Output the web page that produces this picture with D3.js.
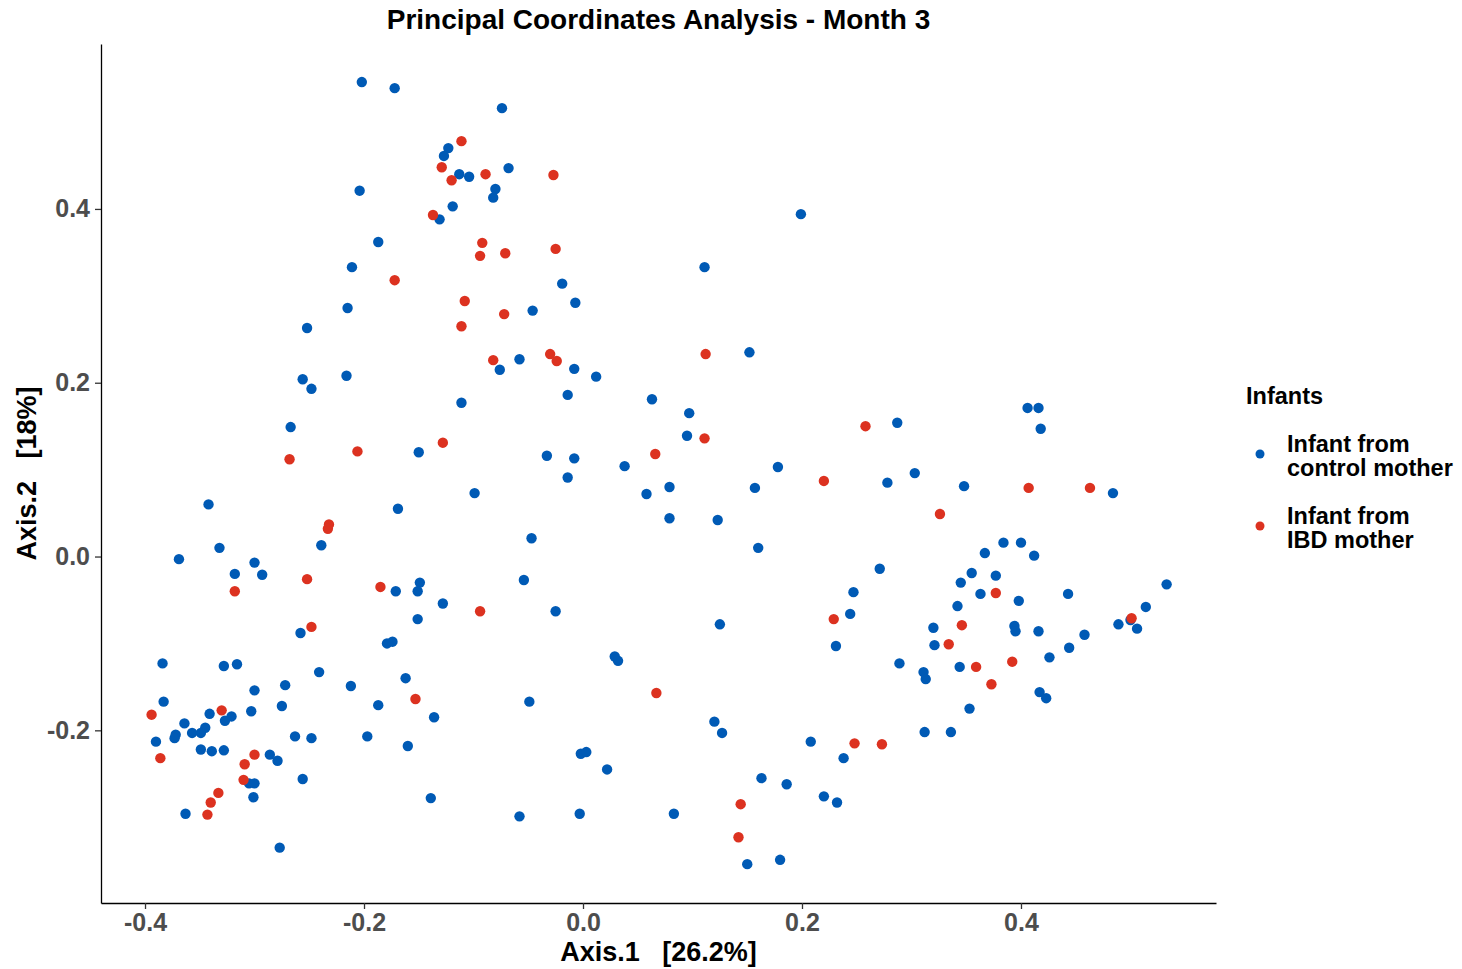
<!DOCTYPE html>
<html>
<head>
<meta charset="utf-8">
<script src="https://cdn.jsdelivr.net/npm/d3@7"></script>
<style>
  body { margin: 0; background: #fff; }
  svg text { font-family: "Liberation Sans", Arial, Helvetica, sans-serif; font-weight: bold; }
</style>
</head>
<body>
<svg id="chart" width="1462" height="969"></svg>
<script>
// groups + colours
const groups = ["control", "ibd"];
const groupColors = ["#005AB5", "#DC3220"];
const legendLines = [["Infant from", "control mother"], ["Infant from", "IBD mother"]];

const xTicks = [-0.4, -0.2, 0, 0.2, 0.4];
const xTickLabels = ["-0.4", "-0.2", "0.0", "0.2", "0.4"];
const yTicks = [-0.2, 0, 0.2, 0.4];
const yTickLabels = ["-0.2", "0.0", "0.2", "0.4"];

// [Axis.1, Axis.2] per sample
const controlPoints = [
  [-0.332, 0.010], [-0.239, 0.013], [-0.369, -0.003], [-0.300, -0.007], [-0.318, -0.020], [-0.293, -0.021],
  [-0.258, -0.088], [-0.384, -0.123], [-0.328, -0.126], [-0.316, -0.124], [-0.241, -0.133], [-0.212, -0.149],
  [-0.300, -0.154], [-0.272, -0.148], [-0.383, -0.167], [-0.275, -0.172], [-0.341, -0.181], [-0.321, -0.184],
  [-0.327, -0.189], [-0.303, -0.178], [-0.364, -0.192], [-0.345, -0.197], [-0.349, -0.203], [-0.357, -0.203],
  [-0.372, -0.205], [-0.373, -0.209], [-0.390, -0.213], [-0.263, -0.207], [-0.248, -0.209], [-0.349, -0.222],
  [-0.339, -0.224], [-0.328, -0.223], [-0.286, -0.228], [-0.279, -0.235], [-0.305, -0.261], [-0.300, -0.261],
  [-0.256, -0.256], [-0.301, -0.277], [-0.363, -0.296], [-0.277, -0.335],
  [-0.252, 0.263], [-0.256, 0.204], [-0.248, 0.193], [-0.267, 0.149], [-0.342, 0.060],
  [-0.202, 0.546], [-0.172, 0.539], [-0.074, 0.516], [-0.123, 0.470], [-0.127, 0.461], [-0.113, 0.440],
  [-0.104, 0.437], [-0.068, 0.447], [-0.204, 0.421], [-0.080, 0.423], [-0.082, 0.413], [-0.119, 0.403],
  [-0.131, 0.388], [-0.187, 0.362], [-0.211, 0.333], [-0.019, 0.314], [-0.007, 0.292], [-0.215, 0.286],
  [-0.046, 0.283],
  [-0.058, 0.227], [-0.076, 0.215], [-0.008, 0.216], [0.012, 0.207], [-0.216, 0.208], [-0.014, 0.186],
  [-0.111, 0.177], [-0.150, 0.120], [-0.033, 0.116], [-0.008, 0.113], [-0.014, 0.091], [-0.099, 0.073],
  [-0.169, 0.055], [-0.047, 0.021], [-0.054, -0.027], [-0.171, -0.040], [-0.149, -0.030], [-0.151, -0.040],
  [-0.128, -0.054], [-0.025, -0.063],
  [-0.151, -0.072], [-0.179, -0.100], [-0.174, -0.098], [-0.162, -0.140], [-0.187, -0.171], [-0.136, -0.185],
  [-0.049, -0.167], [-0.197, -0.207], [-0.160, -0.218], [-0.002, -0.227], [0.003, -0.225], [0.022, -0.245],
  [-0.139, -0.278], [-0.058, -0.299], [-0.003, -0.296],
  [0.199, 0.394], [0.111, 0.333], [0.152, 0.235], [0.063, 0.181], [0.097, 0.165], [0.095, 0.139],
  [0.287, 0.154], [0.038, 0.104], [0.178, 0.103], [0.278, 0.085], [0.058, 0.072], [0.079, 0.080],
  [0.157, 0.079],
  [0.079, 0.044], [0.123, 0.042], [0.160, 0.010], [0.271, -0.014], [0.247, -0.041], [0.244, -0.066],
  [0.125, -0.078], [0.231, -0.103], [0.029, -0.115], [0.032, -0.120], [0.289, -0.123], [0.120, -0.190],
  [0.127, -0.203], [0.208, -0.213], [0.238, -0.232], [0.163, -0.255], [0.186, -0.262], [0.220, -0.276],
  [0.232, -0.283], [0.083, -0.296], [0.150, -0.354], [0.180, -0.349],
  [0.406, 0.171], [0.416, 0.171], [0.418, 0.147], [0.303, 0.096], [0.348, 0.081], [0.484, 0.073],
  [0.384, 0.016], [0.400, 0.016], [0.367, 0.004], [0.412, 0.001], [0.355, -0.019], [0.377, -0.022],
  [0.345, -0.030], [0.363, -0.043], [0.398, -0.051], [0.443, -0.043], [0.533, -0.032], [0.342, -0.057],
  [0.514, -0.058], [0.320, -0.082], [0.394, -0.080], [0.395, -0.086], [0.416, -0.086], [0.458, -0.090],
  [0.489, -0.078], [0.500, -0.073], [0.506, -0.083], [0.321, -0.102], [0.444, -0.105], [0.426, -0.116],
  [0.311, -0.133], [0.313, -0.141], [0.344, -0.127], [0.417, -0.156], [0.423, -0.163], [0.353, -0.175],
  [0.312, -0.202], [0.336, -0.202]
];

const ibdPoints = [
  [-0.252, -0.026], [-0.318, -0.040], [-0.248, -0.081], [-0.394, -0.182], [-0.330, -0.177], [-0.386, -0.232],
  [-0.300, -0.228], [-0.309, -0.239], [-0.310, -0.257], [-0.333, -0.272], [-0.340, -0.283], [-0.343, -0.297],
  [-0.268, 0.112], [-0.232, 0.037], [-0.233, 0.032],
  [-0.111, 0.478], [-0.129, 0.448], [-0.120, 0.433], [-0.089, 0.440], [-0.027, 0.439], [-0.137, 0.393],
  [-0.092, 0.361], [-0.094, 0.346], [-0.071, 0.349], [-0.025, 0.354], [-0.172, 0.318], [-0.108, 0.294],
  [-0.072, 0.279], [-0.111, 0.265],
  [-0.082, 0.226], [-0.030, 0.233], [-0.024, 0.225], [-0.206, 0.121], [-0.128, 0.131], [-0.185, -0.035],
  [-0.094, -0.063], [-0.153, -0.164],
  [0.112, 0.233], [0.111, 0.136], [0.258, 0.150], [0.066, 0.118], [0.220, 0.087],
  [0.229, -0.072], [0.067, -0.157], [0.248, -0.215], [0.273, -0.216], [0.144, -0.285], [0.142, -0.323],
  [0.407, 0.079], [0.463, 0.079], [0.326, 0.049], [0.377, -0.042], [0.346, -0.079], [0.501, -0.071],
  [0.334, -0.101], [0.359, -0.127], [0.392, -0.121], [0.373, -0.147]
];

const svg = d3.select("#chart");

// panel edges (ggplot classic theme, no grid)
const panelLeft = 101, panelRight = 1216, panelTop = 44, panelBottom = 903;

const xscale = d3.scaleLinear()
    .domain([-0.4402, 0.5781])
    .range([panelLeft, panelRight]);

const yscale = d3.scaleLinear()
    .domain([-0.3987, 0.5898])
    .range([panelBottom, panelTop]);

const xAxis = svg.append("g")
    .attr("transform", `translate(0,${panelBottom})`)
    .call(d3.axisBottom(xscale)
        .tickValues(xTicks)
        .tickFormat((d, i) => xTickLabels[i])
        .tickSizeInner(6)
        .tickSizeOuter(0)
        .tickPadding(4));

const yAxis = svg.append("g")
    .attr("transform", `translate(${panelLeft},0)`)
    .call(d3.axisLeft(yscale)
        .tickValues(yTicks)
        .tickFormat((d, i) => yTickLabels[i])
        .tickSizeInner(6)
        .tickSizeOuter(0)
        .tickPadding(5));

[xAxis, yAxis].forEach(ax => {
  ax.select(".domain").attr("stroke", "#000").attr("stroke-width", 1.3);
  ax.selectAll(".tick line").attr("stroke", "#333").attr("stroke-width", 1.3);
  ax.selectAll(".tick text")
    .attr("fill", "#4d4d4d")
    .style("font-size", "25px");
});

// points, control first so IBD sits on top
const series = [controlPoints, ibdPoints];
series.forEach((pts, gi) => {
  svg.append("g")
    .selectAll("circle")
    .data(pts)
    .join("circle")
    .attr("cx", d => xscale(d[0]))
    .attr("cy", d => yscale(d[1]))
    .attr("r", 5.2)
    .attr("fill", groupColors[gi]);
});

// titles
svg.append("text")
    .attr("x", (panelLeft + panelRight) / 2)
    .attr("y", 29)
    .attr("text-anchor", "middle")
    .style("font-size", "28px")
    .text("Principal Coordinates Analysis - Month 3");

svg.append("text")
    .attr("x", (panelLeft + panelRight) / 2)
    .attr("y", 961)
    .attr("text-anchor", "middle")
    .style("font-size", "27px")
    .style("white-space", "pre")
    .text("Axis.1   [26.2%]");

svg.append("text")
    .attr("transform", `translate(36,${(panelTop + panelBottom) / 2}) rotate(-90)`)
    .attr("text-anchor", "middle")
    .style("font-size", "27px")
    .style("white-space", "pre")
    .text("Axis.2   [18%]");

// legend
const legend = svg.append("g");

legend.append("text")
    .attr("x", 1246)
    .attr("y", 404)
    .style("font-size", "23.5px")
    .text("Infants");

groups.forEach((g, i) => {
  const cy = 454 + i * 72;
  legend.append("circle")
    .attr("cx", 1260)
    .attr("cy", cy)
    .attr("r", 4.5)
    .attr("fill", groupColors[i]);

  const t = legend.append("text")
    .attr("x", 1287)
    .attr("y", cy - 2)
    .style("font-size", "23.5px");
  legendLines[i].forEach((line, j) => {
    t.append("tspan")
      .attr("x", 1287)
      .attr("dy", j === 0 ? 0 : 23.5)
      .text(line);
  });
});
</script>
</body>
</html>
